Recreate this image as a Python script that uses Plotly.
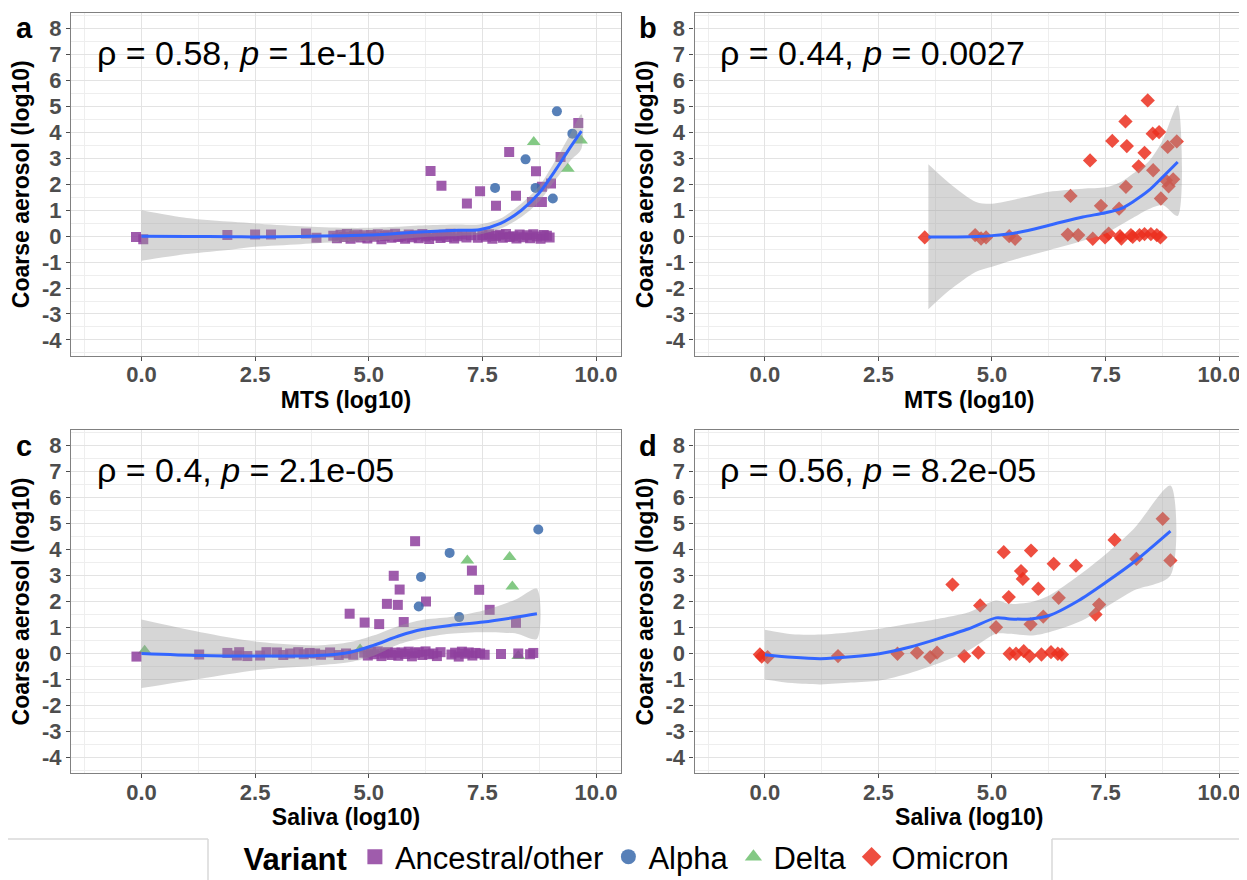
import plotly.graph_objects as go

# The page adds an 8 px body margin, so the figure is drawn 8 px smaller and
# all reference pixel positions are shifted by this offset.
PAGE_W, PAGE_H = 1247, 880
OFF = 8
W, H = PAGE_W - OFF, PAGE_H - OFF

# ---------------- data ----------------
# Panel a : MTS vs coarse aerosol
a_anc_x = [-0.12, 0.04, 1.89, 2.50, 2.85, 3.62, 3.85,
           4.22, 4.3, 4.38, 4.45, 4.52, 4.6, 4.68, 4.75, 4.82, 4.9,
           4.97, 5.05, 5.12, 5.2, 5.28, 5.35, 5.42, 5.5, 5.58, 5.65,
           5.72, 5.8, 5.88, 5.95, 6.02, 6.1, 6.18, 6.25, 6.33, 6.42,
           6.5, 6.58, 6.65, 6.72, 6.8, 6.88, 6.95, 7.05, 7.15, 7.25,
           7.4, 7.5, 7.58, 7.65, 7.72, 7.8, 7.88, 7.95, 8.02, 8.1,
           8.18, 8.25, 8.32, 8.4, 8.48, 8.55, 8.62, 8.7, 8.78, 8.85,
           8.92, 8.98,
           6.36, 6.60, 7.16, 7.45, 7.80, 8.09, 8.24, 8.68, 8.59, 8.81, 8.81, 9.01, 9.22, 9.61]
a_anc_y = [-0.03, -0.12, 0.04, 0.06, 0.06, 0.1, -0.06,
           0.02, -0.08, 0.05, -0.03, 0.08, -0.1, 0.0, 0.06, -0.05, 0.03,
           -0.09, 0.04, -0.02, 0.07, -0.12, 0.01, 0.05, -0.06, 0.09, -0.03,
           0.0, -0.1, 0.06, -0.04, 0.03, -0.08, 0.08, -0.01, -0.11, 0.04,
           0.02, -0.07, 0.05, -0.03, 0.09, -0.09, 0.0, 0.06, -0.05, 0.03,
           -0.06, 0.04, -0.02, 0.07, -0.1, 0.01, 0.05, -0.06, 0.08, -0.03,
           0.0, -0.09, 0.06, -0.04, 0.03, -0.08, 0.07, -0.01, -0.1, 0.04,
           0.02, -0.05,
           2.51, 1.94, 1.26, 1.73, 1.17, 3.24, 1.56, 2.5, 1.32, 1.32, 1.9, 2.03, 3.05, 4.36]
a_alp_x = [9.14, 8.45, 7.78, 8.67, 9.05, 9.48]
a_alp_y = [4.81, 2.96, 1.86, 1.86, 1.45, 3.95]
a_del_x = [8.63, 9.38, 9.67, 4.62, 6.32]
a_del_y = [3.63, 2.60, 3.69, 0.06, -0.02]
a_fit_x = [0, 1.0, 2.0, 2.5, 3.5, 4.5, 5.0, 5.6, 6.24, 6.97, 7.43, 7.9, 8.36, 8.74, 9.13, 9.44, 9.68]
a_fit_y = [0.0, -0.01, -0.02, -0.03, -0.01, 0.02, 0.04, 0.1, 0.17, 0.23, 0.25, 0.49, 1.0, 1.64, 2.6, 3.44, 4.05]
a_fit_hi = [1.0, 0.7, 0.55, 0.49, 0.38, 0.32, 0.32, 0.36, 0.42, 0.45, 0.45, 0.68, 1.26, 1.9, 2.99, 3.95, 4.7]
a_fit_lo = [-0.95, -0.69, -0.51, -0.41, -0.31, -0.22, -0.18, -0.12, -0.03, 0.01, 0.06, 0.29, 0.74, 1.32, 2.22, 2.92, 3.37]

# Panel b : MTS vs coarse aerosol, Omicron
b_omi_x = [3.52, 4.63, 4.76, 4.87, 5.38, 5.51, 6.67, 6.73, 6.9, 7.16, 7.22, 7.4, 7.49, 7.57,
           7.65, 7.8, 7.82, 7.85, 7.94, 7.95, 7.97, 8.06, 8.1, 8.23, 8.25, 8.36, 8.36, 8.43,
           8.5, 8.54, 8.55, 8.63, 8.68, 8.71, 8.72, 8.83, 8.87, 8.89, 8.99, 9.07]
b_omi_y = [-0.05, 0.04, -0.09, -0.05, 0.0, -0.1, 0.06, 1.55, 0.04, 2.92, -0.1, 1.17, -0.05, 0.1,
           3.67, 1.06, 0.0, -0.09, 4.42, 1.9, 3.47, 0.04, -0.03, 2.69, 0.04, 3.21, 0.08, 5.23,
           0.08, 3.95, 2.54, 0.04, 4.01, -0.05, 1.45, 2.15, 3.44, 1.92, 2.19, 3.65]
b_fit_x = [3.6, 4.07, 4.65, 5.0, 5.6, 6.26, 7.0, 7.5, 7.85, 8.1, 8.46, 8.76, 9.09]
b_fit_y = [-0.03, -0.03, -0.01, 0.02, 0.15, 0.42, 0.74, 0.9, 1.07, 1.32, 1.77, 2.28, 2.86]
b_fit_hi = [2.77, 2.03, 1.32, 1.25, 1.45, 1.71, 1.83, 1.88, 2.1, 2.4, 2.9, 3.7, 5.04]
b_fit_lo = [-2.82, -2.08, -1.37, -1.18, -0.85, -0.54, -0.18, 0.1, 0.45, 0.7, 1.05, 1.2, 0.78]

# Panel c : Saliva vs coarse aerosol
c_anc_x = [-0.11, 1.27, 1.89, 2.1, 2.15, 2.33, 2.61, 2.75, 2.98, 3.12, 3.27, 3.45, 3.57, 3.7,
           3.82, 3.95, 4.15, 4.34, 4.5, 4.66,
           4.9, 4.98, 5.05, 5.12, 5.2, 5.28, 5.35, 5.42, 5.5, 5.58, 5.65, 5.72, 5.8, 5.88,
           5.95, 6.02, 6.1, 6.18, 6.25, 6.33, 6.42, 6.5, 6.58, 6.82, 6.9, 6.98, 7.05, 7.12,
           7.2, 7.28, 7.35, 7.45, 7.55, 7.91, 8.29, 8.55, 8.62,
           6.02, 5.55, 5.68, 5.40, 5.64, 6.26, 4.58, 4.91, 5.23, 5.77, 7.27, 7.43, 7.66, 8.24]
c_anc_y = [-0.12, -0.04, 0.02, -0.08, 0.05, -0.1, -0.08, 0.05, 0.04, -0.06, 0.0, 0.05, -0.03, 0.02,
           0.0, -0.05, 0.04, -0.06, 0.0, -0.05,
           0.03, -0.08, 0.06, -0.03, 0.08, -0.1, 0.0, 0.05, -0.06, 0.03, -0.09, 0.04, -0.02, 0.07,
           -0.11, 0.01, 0.05, -0.06, 0.08, -0.03, 0.0, -0.1, 0.05, -0.04, 0.03, -0.12, 0.07, -0.01,
           0.04, -0.08, 0.02, 0.0, -0.05, -0.02, 0.0, -0.03, 0.02,
           4.32, 2.99, 2.46, 1.91, 1.87, 2.0, 1.53, 1.19, 1.13, 1.21, 3.19, 2.45, 1.68, 1.18]
c_alp_x = [8.73, 6.78, 6.15, 6.10, 6.99]
c_alp_y = [4.77, 3.87, 2.94, 1.81, 1.40]
c_del_x = [7.17, 8.10, 8.16, 0.07, 4.81, 8.29]
c_del_y = [3.58, 3.71, 2.58, 0.10, 0.15, -0.10]
c_fit_x = [0, 1.3, 2.6, 3.86, 4.6, 5.1, 5.69, 6.17, 6.79, 7.52, 8.26, 8.7]
c_fit_y = [0, -0.08, -0.1, -0.08, 0.05, 0.31, 0.69, 0.92, 1.08, 1.21, 1.4, 1.53]
c_fit_hi = [1.31, 0.82, 0.44, 0.31, 0.44, 0.69, 1.08, 1.29, 1.4, 1.65, 2.1, 2.49]
c_fit_lo = [-1.33, -0.97, -0.63, -0.46, -0.33, -0.1, 0.37, 0.59, 0.76, 0.82, 0.76, 0.56]

# Panel d : Saliva vs coarse aerosol, Omicron
d_omi_x = [-0.11, -0.07, 0.06, 1.61, 2.92, 3.35, 3.64, 3.79, 4.13, 4.39, 4.70, 4.74, 5.09,
           5.26, 5.37, 5.39, 5.53, 5.64, 5.68, 5.70, 5.83, 5.86, 5.85, 6.02, 6.09, 6.13,
           6.3, 6.36, 6.47, 6.45, 6.54, 6.85, 7.28, 7.36, 7.70, 8.18, 8.76, 8.93]
d_omi_y = [-0.04, -0.12, -0.14, -0.1, -0.01, 0.03, -0.14, 0.03, 2.65, -0.1, 0.03, 1.85, 1.01,
           3.9, 2.17, -0.01, -0.01, 3.17, 2.87, 0.09, -0.1, 3.96, 1.12, 2.49, -0.04, 1.42,
           0.05, 3.45, 2.14, -0.01, -0.04, 3.38, 1.5, 1.88, 4.37, 3.64, 5.18, 3.58]
d_fit_x = [0, 0.6, 1.23, 1.9, 2.52, 3.2, 3.8, 4.49, 5.09, 5.39, 5.85, 6.26, 6.91, 7.51, 8.12, 8.93]
d_fit_y = [-0.05, -0.15, -0.2, -0.13, -0.01, 0.25, 0.56, 0.95, 1.37, 1.33, 1.33, 1.46, 2.04, 2.74, 3.51, 4.71]
d_fit_hi = [0.91, 0.74, 0.73, 0.82, 0.95, 1.15, 1.33, 1.59, 2.04, 1.91, 1.97, 2.23, 3.0, 3.83, 4.79, 6.46]
d_fit_lo = [-1.0, -1.14, -1.19, -1.12, -1.04, -0.75, -0.4, 0.12, 0.76, 0.76, 0.69, 0.82, 1.21, 1.78, 2.42, 3.0]

stats = ["ρ = 0.58, <i>p</i> = 1e-10", "ρ = 0.44, <i>p</i> = 0.0027",
         "ρ = 0.4, <i>p</i> = 2.1e-05", "ρ = 0.56, <i>p</i> = 8.2e-05"]
letters = ["a", "b", "c", "d"]
xtitles = ["MTS (log10)", "MTS (log10)", "Saliva (log10)", "Saliva (log10)"]
ytitle = "Coarse aerosol (log10)"
variants = ["Ancestral/other", "Alpha", "Delta", "Omicron"]
x_ticks = [0, 2.5, 5, 7.5, 10]
x_ticklabels = ["0.0", "2.5", "5.0", "7.5", "10.0"]
y_ticks = [-4, -3, -2, -1, 0, 1, 2, 3, 4, 5, 6, 7, 8]
y_ticklabels = ["-4", "-3", "-2", "-1", "0", "1", "2", "3", "4", "5", "6", "7", "8"]

# ---------------- styles ----------------
COL = {"Ancestral/other": "#8E3F9E", "Alpha": "#3A6AAB", "Delta": "#6DC06E", "Omicron": "#EB2F1F"}
SYM = {"Ancestral/other": "square", "Alpha": "circle", "Delta": "triangle-up", "Omicron": "diamond"}
SIZE = {"Ancestral/other": 10, "Alpha": 10, "Delta": 12, "Omicron": 11}
RANK = {"Ancestral/other": 1, "Alpha": 2, "Delta": 3, "Omicron": 4}
FONT = "Liberation Sans"


def px(X):
    return (X - OFF) / W


def py(Y):
    return 1 - (Y - OFF) / H


fig = go.Figure()


def pts(x, y, v, ax):
    fig.add_trace(go.Scatter(
        x=x, y=y, mode="markers", xaxis="x" + ax, yaxis="y" + ax, showlegend=False,
        marker=dict(symbol=SYM[v], size=SIZE[v], color=COL[v], opacity=0.85, line=dict(width=0)),
        hoverinfo="skip"))


def smooth(fx, fy, hi, lo, ax):
    fig.add_trace(go.Scatter(
        x=list(fx) + list(fx[::-1]), y=list(hi) + list(lo[::-1]),
        fill="toself", fillcolor="rgba(153,153,153,0.4)", mode="lines",
        line=dict(width=0, shape="spline", smoothing=0.8), xaxis="x" + ax, yaxis="y" + ax,
        showlegend=False, hoverinfo="skip"))
    fig.add_trace(go.Scatter(
        x=fx, y=fy, mode="lines", line=dict(color="#3366FF", width=3, shape="spline", smoothing=0.8),
        xaxis="x" + ax, yaxis="y" + ax, showlegend=False, hoverinfo="skip"))


# panel a
pts(a_del_x, a_del_y, "Delta", "")
pts(a_anc_x, a_anc_y, "Ancestral/other", "")
pts(a_alp_x, a_alp_y, "Alpha", "")
smooth(a_fit_x, a_fit_y, a_fit_hi, a_fit_lo, "")
# panel b
pts(b_omi_x, b_omi_y, "Omicron", "2")
smooth(b_fit_x, b_fit_y, b_fit_hi, b_fit_lo, "2")
# panel c
pts(c_del_x, c_del_y, "Delta", "3")
pts(c_anc_x, c_anc_y, "Ancestral/other", "3")
pts(c_alp_x, c_alp_y, "Alpha", "3")
smooth(c_fit_x, c_fit_y, c_fit_hi, c_fit_lo, "3")
# panel d
pts(d_omi_x, d_omi_y, "Omicron", "4")
smooth(d_fit_x, d_fit_y, d_fit_hi, d_fit_lo, "4")

# legend entries
for v in variants:
    fig.add_trace(go.Scatter(
        x=[None], y=[None], mode="markers", name=v, legendrank=RANK[v],
        marker=dict(symbol=SYM[v], size=15, color=COL[v], opacity=0.85, line=dict(width=0))))

# ---------------- layout ----------------
xdom = [[px(71), px(621)], [px(694.5), px(1244)]]
ydom = [[py(355.5), py(13)], [py(773), py(430)]]

common = dict(showline=True, mirror=True, linecolor="#808080", linewidth=1.2,
              ticks="outside", ticklen=4, tickwidth=1.2, tickcolor="#4D4D4D",
              zeroline=False, showgrid=True, gridcolor="#E3E3E3", gridwidth=1.3,
              automargin=False,
              tickfont=dict(family=FONT, size=22, color="#4D4D4D", weight="bold"))

layout = dict(width=W, height=H, autosize=False, paper_bgcolor="white", plot_bgcolor="white",
              margin=dict(l=0, r=0, t=0, b=0, autoexpand=False), font=dict(family=FONT, color="black"))

names = ["", "2", "3", "4"]
for i, n in enumerate(names):
    col = i % 2
    row = i // 2
    layout["xaxis" + n] = dict(
        common, domain=xdom[col], range=[-1.55, 10.55], anchor="y" + n,
        tickmode="array", tickvals=x_ticks, ticktext=x_ticklabels, ticklabelstandoff=-5,
        minor=dict(tickmode="array", tickvals=[-1.25, 1.25, 3.75, 6.25, 8.75], showgrid=True,
                   gridcolor="#EEEEEE", gridwidth=1, ticks=""),
        title=dict(text="<b>" + xtitles[i] + "</b>", font=dict(family=FONT, size=23, color="black"),
                   standoff=2))
    layout["yaxis" + n] = dict(
        common, domain=ydom[row], range=[-4.6, 8.6], anchor="x" + n,
        tickmode="array", tickvals=y_ticks, ticktext=y_ticklabels,
        minor=dict(tickmode="array", tickvals=[-4.5, -3.5, -2.5, -1.5, -0.5, 0.5, 1.5, 2.5, 3.5,
                                               4.5, 5.5, 6.5, 7.5, 8.5],
                   showgrid=True, gridcolor="#EEEEEE", gridwidth=1, ticks=""),
        title=dict(text="<b>" + ytitle + "</b>", font=dict(family=FONT, size=23, color="black"),
                   standoff=5))

ann = []
for i, n in enumerate(names):
    ann.append(dict(text=stats[i], xref="x" + n, yref="y" + n, x=-1.03, y=7.05,
                    xanchor="left", yanchor="middle", showarrow=False,
                    font=dict(family=FONT, size=34, color="black")))
letter_pos = [(24, 28), (648, 28), (24, 446), (648, 446)]
for i, (lx, ly) in enumerate(letter_pos):
    ann.append(dict(text="<b>" + letters[i] + "</b>", xref="paper", yref="paper",
                    x=px(lx), y=py(ly), xanchor="center", yanchor="middle", showarrow=False,
                    font=dict(family=FONT, size=29, color="black")))
layout["annotations"] = ann

# frame around legend area
lc = "#D9D9D9"
shapes = []
for (x0, y0, x1, y1) in [(OFF, 839, 208, 839), (208, 839, 208, PAGE_H), (1052, 839, 1052, PAGE_H),
                         (1052, 839, PAGE_W, 839)]:
    shapes.append(dict(type="line", xref="paper", yref="paper", x0=px(x0), x1=px(x1),
                       y0=py(y0), y1=py(y1), line=dict(color=lc, width=1.5)))
layout["shapes"] = shapes

layout["legend"] = dict(orientation="h", x=px(628), xanchor="center", y=py(857), yanchor="middle",
                        bgcolor="rgba(0,0,0,0)", font=dict(family=FONT, size=31, color="black"),
                        title=dict(text="<b>Variant</b>", side="left",
                                   font=dict(family=FONT, size=31, color="black")),
                        itemsizing="trace", traceorder="normal")
layout["showlegend"] = True

fig.update_layout(layout)
fig.write_html("out.html")
